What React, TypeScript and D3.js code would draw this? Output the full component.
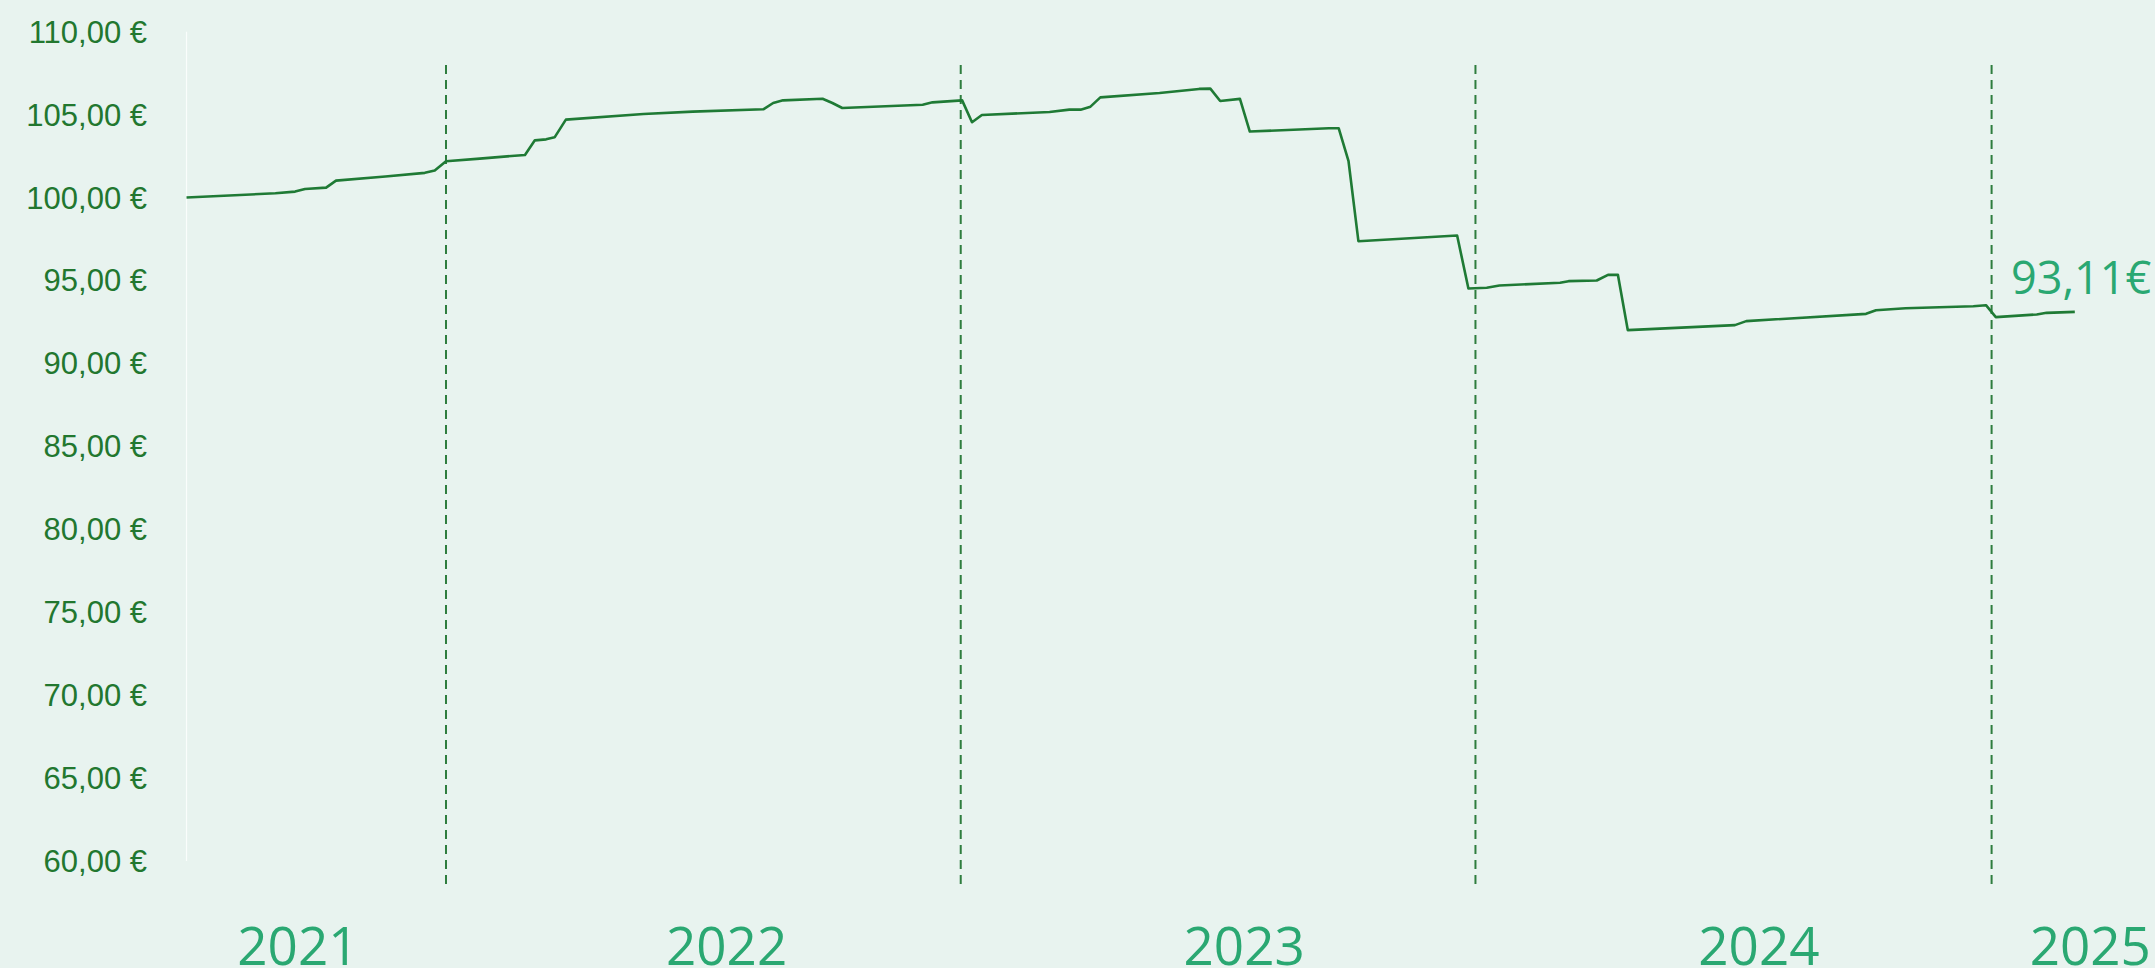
import { useMemo } from "react";
import * as d3 from "d3";

// price history
const DATES = [
  "2021-07-01", "2021-09-02", "2021-09-16", "2021-09-23", "2021-10-08", "2021-10-15",
  "2021-11-19", "2021-12-17", "2021-12-24", "2022-01-01", "2022-01-25", "2022-02-26",
  "2022-03-05", "2022-03-13", "2022-03-19", "2022-03-27", "2022-05-21", "2022-06-25",
  "2022-08-14", "2022-08-21", "2022-08-28", "2022-09-25", "2022-10-02", "2022-10-09",
  "2022-12-05", "2022-12-12", "2023-01-02", "2023-01-09", "2023-01-16", "2023-03-05",
  "2023-03-19", "2023-03-27", "2023-04-03", "2023-04-10", "2023-05-22", "2023-06-19",
  "2023-06-27", "2023-07-04", "2023-07-18", "2023-07-25", "2023-09-19", "2023-09-26",
  "2023-10-03", "2023-10-10", "2023-12-19", "2023-12-27", "2024-01-09", "2024-01-18",
  "2024-03-01", "2024-03-07", "2024-03-27", "2024-04-04", "2024-04-11", "2024-04-18",
  "2024-07-03", "2024-07-11", "2024-10-04", "2024-10-11", "2024-11-01", "2024-12-19",
  "2024-12-28", "2025-01-04", "2025-02-02", "2025-02-09", "2025-03-01",
];
const VALUES = [
  100.0, 100.26, 100.36, 100.52, 100.6, 101.02,
  101.27, 101.49, 101.63, 102.19, 102.35, 102.57,
  103.45, 103.51, 103.63, 104.7, 105.04, 105.18,
  105.32, 105.7, 105.86, 105.96, 105.7, 105.4,
  105.6, 105.74, 105.86, 104.54, 104.98, 105.16,
  105.3, 105.3, 105.48, 106.04, 106.3, 106.55,
  106.57, 105.82, 105.95, 103.98, 104.18, 104.18,
  102.19, 97.37, 97.71, 94.52, 94.56, 94.7,
  94.86, 94.96, 95.0, 95.34, 95.34, 92.01,
  92.31, 92.55, 92.99, 93.21, 93.33, 93.45,
  93.51, 92.79, 92.95, 93.05, 93.11,
];

const Y_TICKS = [60, 65, 70, 75, 80, 85, 90, 95, 100, 105, 110];
const YEAR_LINES = ["2022-01-01", "2023-01-01", "2024-01-01", "2025-01-01"];
const YEAR_LABELS = ["2021", "2022", "2023", "2024", "2025"];
const YEAR_LABEL_DATES = ["2021-09-18", "2022-07-19", "2023-07-21", "2024-07-20", "2025-03-12"];
const LAST_LABEL = "93,11€";

const W = 2155;
const H = 968;
const BG = "#e8f3ef";
const LINE = "#1f7a35";
const TEAL = "#2aa872";

const parse = d3.utcParse("%Y-%m-%d");

export default function App() {
  const points = useMemo(
    () => DATES.map((d, i) => ({ date: parse(d)!, value: VALUES[i] })),
    []
  );

  const x = d3
    .scaleUtc()
    .domain([parse("2022-01-01")!, parse("2025-01-01")!])
    .range([446, 446 + 3 * 515.2]);
  const y = d3.scaleLinear().domain([60, 110]).range([861, 31.7]);

  const line = d3
    .line<{ date: Date; value: number }>()
    .x((d) => x(d.date))
    .y((d) => y(d.value));

  const fmt = (v: number) => v.toFixed(2).replace(".", ",") + " €";
  const x0 = x(points[0].date);

  return (
    <div style={{ position: "fixed", left: 0, top: 0, width: W, height: H, background: BG }}>
      <svg width={W} height={H} style={{ display: "block" }}>
        <rect width={W} height={H} fill={BG} />

        {/* y axis */}
        <line x1={x0} x2={x0} y1={y(110)} y2={y(60)} stroke="#fafdfc" strokeWidth={1.2} />
        {Y_TICKS.map((t) => (
          <text
            key={t}
            x={147}
            y={y(t) + 11}
            textAnchor="end"
            fontFamily="'Liberation Sans', Arial, sans-serif"
            fontSize={31}
            fill="#22772f"
          >
            {fmt(t)}
          </text>
        ))}

        {/* year boundaries */}
        {YEAR_LINES.map((d) => (
          <line
            key={d}
            x1={x(parse(d)!)}
            x2={x(parse(d)!)}
            y1={65}
            y2={886}
            stroke="#2e7d3e"
            strokeWidth={2}
            strokeDasharray="9,6"
          />
        ))}

        <path d={line(points) ?? ""} fill="none" stroke={LINE} strokeWidth={2.6} strokeLinejoin="round" />

        {YEAR_LABELS.map((lab, i) => (
          <text
            key={lab}
            x={x(parse(YEAR_LABEL_DATES[i])!)}
            y={965}
            textAnchor="middle"
            fontFamily="'Open Sans', 'Noto Sans', sans-serif"
            fontSize={53}
            fill={TEAL}
          >
            {lab}
          </text>
        ))}

        <text
          x={2011}
          y={294}
          fontFamily="'Open Sans', 'Noto Sans', sans-serif"
          fontSize={45}
          fill={TEAL}
        >
          {LAST_LABEL}
        </text>
      </svg>
    </div>
  );
}
